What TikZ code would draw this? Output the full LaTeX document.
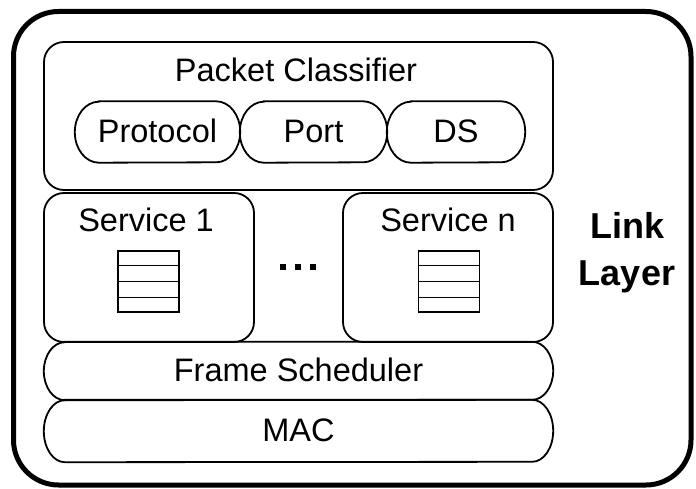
\documentclass[tikz,border=0pt]{standalone}
\usepackage{fontspec}
\setmainfont{Liberation Sans}
\begin{document}
\begin{tikzpicture}[x=1pt,y=-1pt,
  txt/.style={font=\fontsize{32.5}{34}\selectfont},
  lbl/.style={txt, inner sep=0pt},
  box/.style={draw, line width=1.8pt, rounded corners=20pt, inner sep=0pt},
  pill/.style={txt, inner sep=0pt, text height=21pt, text depth=0pt},
  queue/.style={draw, line width=1.6pt, minimum width=61pt, minimum height=61pt, inner sep=0pt},
  dot/.style={fill, minimum size=6.5pt, inner sep=0pt}
]
% outline of a pill-shaped node: straight top and bottom, half-elliptic ends
\newcommand\pillshape[3]{%
  \draw[line width=1.8pt] ([xshift=#2]#1.north west) -- ([xshift=-#2]#1.north east)
    arc[start angle=90, end angle=-90, x radius=#2, y radius=#3]
    -- ([xshift=#2]#1.south west)
    arc[start angle=270, end angle=90, x radius=#2, y radius=#3] -- cycle;}

\useasboundingbox (0,0) rectangle (696,489);
% outer link-layer frame
\draw[line width=5pt, rounded corners=45pt] (13.5,11.5) rectangle (691,485);

% packet classifier with its three matchers
\node[box, minimum width=509pt, minimum height=148pt] (pc) at (298.5,116) {};
\node[lbl, anchor=base] (pct) at (296,82) {Packet Classifier};
\node[pill, minimum width=165pt, minimum height=61pt] (proto) at (157.5,132) {Protocol};
\node[pill, minimum width=147pt, minimum height=61pt] (port) at (313.5,132) {Port};
\node[pill, minimum width=138pt, minimum height=61pt] (ds) at (456,132) {DS};
\pillshape{proto}{24pt}{30.5pt}
\pillshape{port}{24pt}{30.5pt}
\pillshape{ds}{24pt}{30.5pt}

% service queues
\node[box, minimum width=210pt, minimum height=149pt] (s1) at (149,267.5) {};
\node[lbl, anchor=base] (s1t) at (146,232) {Service 1};
\node[box, minimum width=210pt, minimum height=149pt] (sn) at (448,267.5) {};
\node[lbl, anchor=base] (snt) at (448,232) {Service n};

\foreach \q/\x in {q1/148.5, qn/449} {
  \node[queue] (\q) at (\x,281.5) {};
  \draw[line width=1.6pt] ([yshift=-15.25pt]\q.north west) -- ([yshift=-15.25pt]\q.north east);
  \draw[line width=1.6pt] (\q.west) -- (\q.east);
  \draw[line width=1.6pt] ([yshift=15.25pt]\q.south west) -- ([yshift=15.25pt]\q.south east);
}

\node[dot] (d1) at (283,267) {};
\node[dot] (d2) at (298,267) {};
\node[dot] (d3) at (313,267) {};

% lower layers
\node[pill, minimum width=509pt, minimum height=58pt] (fs) at (298.5,371) {Frame Scheduler};
\node[pill, minimum width=509pt, minimum height=62pt] (mac) at (298.5,431) {MAC};
\pillshape{fs}{21pt}{29pt}
\pillshape{mac}{21pt}{31pt}

% layer caption
\node[font=\fontsize{36}{47}\selectfont\bfseries, align=center, inner sep=0pt] (ll) at (627,253) {Link\\Layer};
\end{tikzpicture}
\end{document}
